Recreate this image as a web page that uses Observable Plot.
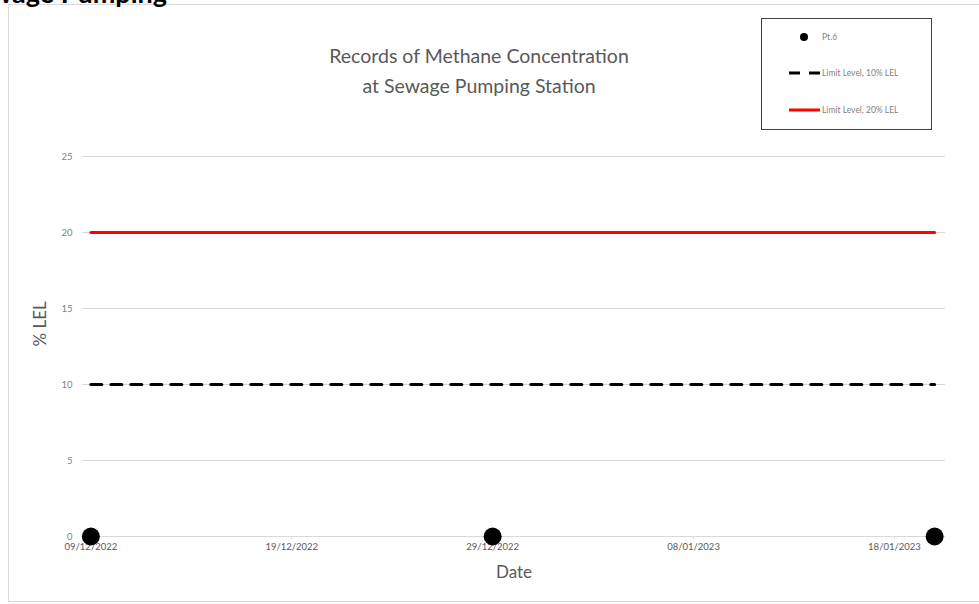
<!DOCTYPE html>
<html>
<head>
<meta charset="utf-8">
<script src="https://cdn.jsdelivr.net/npm/d3@7"></script>
<script src="https://cdn.jsdelivr.net/npm/@observablehq/plot@0.6"></script>
<style>
  html, body { margin: 0; padding: 0; background: #fff; overflow: hidden; }
  body { width: 979px; height: 604px; position: relative; font-family: Lato, "Open Sans", sans-serif; }
  #frame { position: absolute; left: 8px; top: 4px; width: 990px; height: 598px; border: 1px solid #d9d9d9; box-sizing: border-box; }
  #cut { position: absolute; right: 812px; top: -24px; font: bold 27px Lato, sans-serif; line-height: 34px; color: #000; white-space: nowrap; }
  #chart { position: absolute; left: 0; top: 0; }
  #title { position: absolute; left: 279px; width: 400px; top: 41px; text-align: center; color: #595959; font-size: 19.5px; line-height: 30px; }
  #legend { position: absolute; left: 761px; top: 18px; width: 171px; height: 112px; border: 1.5px solid #404040; box-sizing: border-box; font-size: 8.5px; color: #7f7f7f; }
  .li { position: absolute; left: 0; height: 12px; display: flex; align-items: center; }
  .li svg { position: absolute; left: 27px; top: 0; }
  .li span { position: absolute; left: 60px; white-space: nowrap; line-height: 12px; top: 0; }
</style>
</head>
<body>
<div id="frame"></div>
<div id="cut">Sewage Pumping</div>
<div id="chart"></div>
<div id="title">Records of Methane Concentration<br>at Sewage Pumping Station</div>
<div id="legend">
  <div class="li" style="top:12px"><svg width="31" height="12"><circle cx="15" cy="6" r="4" fill="#000"/></svg><span>Pt.6</span></div>
  <div class="li" style="top:48px"><svg width="31" height="12"><line x1="0" x2="31" y1="6" y2="6" stroke="#000" stroke-width="3" stroke-dasharray="11,9"/></svg><span>Limit Level, 10% LEL</span></div>
  <div class="li" style="top:85px"><svg width="31" height="12"><line x1="0" x2="31" y1="6" y2="6" stroke="#ff0000" stroke-width="3"/></svg><span>Limit Level, 20% LEL</span></div>
</div>
<script>
// ---- data ----
const dates = ["2022-12-09", "2022-12-29", "2023-01-20"];
const pt6 = [0, 0, 0];
const limit10 = [10, 10, 10];
const limit20 = [20, 20, 20];
const xTicks = ["2022-12-09", "2022-12-19", "2022-12-29", "2023-01-08", "2023-01-18"];
const yTicks = [0, 5, 10, 15, 20, 25];

const parse = d3.utcParse("%Y-%m-%d");
const fmt = d3.utcFormat("%d/%m/%Y");
const rows = dates.map((d, i) => ({date: parse(d), pt6: pt6[i], l10: limit10[i], l20: limit20[i]}));
const tickDates = xTicks.map(parse);
const first = rows[0].date, last = rows[rows.length - 1].date;

const chart = Plot.plot({
  width: 979,
  height: 604,
  marginLeft: 82,
  marginRight: 34,
  marginTop: 156,
  marginBottom: 68,
  style: {fontFamily: "Lato, 'Open Sans', sans-serif", background: "transparent"},
  x: {type: "utc", domain: [d3.utcHour.offset(first, -10), d3.utcHour.offset(last, 13)]},
  y: {domain: [0, 25]},
  marks: [
    Plot.ruleY(yTicks, {stroke: "#d9d9d9", strokeWidth: 1}),
    Plot.axisY({ticks: yTicks, tickSize: 0, tickPadding: 10, fontSize: 9.5, fill: "#7f7f7f", label: null}),
    Plot.axisX({ticks: tickDates, tickFormat: fmt, tickSize: 3, tickPadding: 4, stroke: "#d9d9d9", fontSize: 9.5, fill: "#595959", label: null}),
    Plot.lineY(rows, {x: "date", y: "l20", stroke: "#ff0000", strokeWidth: 3}),
    Plot.lineY(rows, {x: "date", y: "l10", stroke: "#000", strokeWidth: 3, strokeDasharray: "11,9"}),
    Plot.dot(rows, {x: "date", y: "pt6", r: 9, fill: "#000", stroke: "none"}),
    Plot.text(["% LEL"], {frameAnchor: "left", dx: -42, rotate: -90, fontSize: 17, fill: "#595959"}),
    Plot.text(["Date"], {frameAnchor: "bottom", dy: 41, fontSize: 17, fill: "#595959"})
  ]
});
document.getElementById("chart").appendChild(chart);
</script>
</body>
</html>
